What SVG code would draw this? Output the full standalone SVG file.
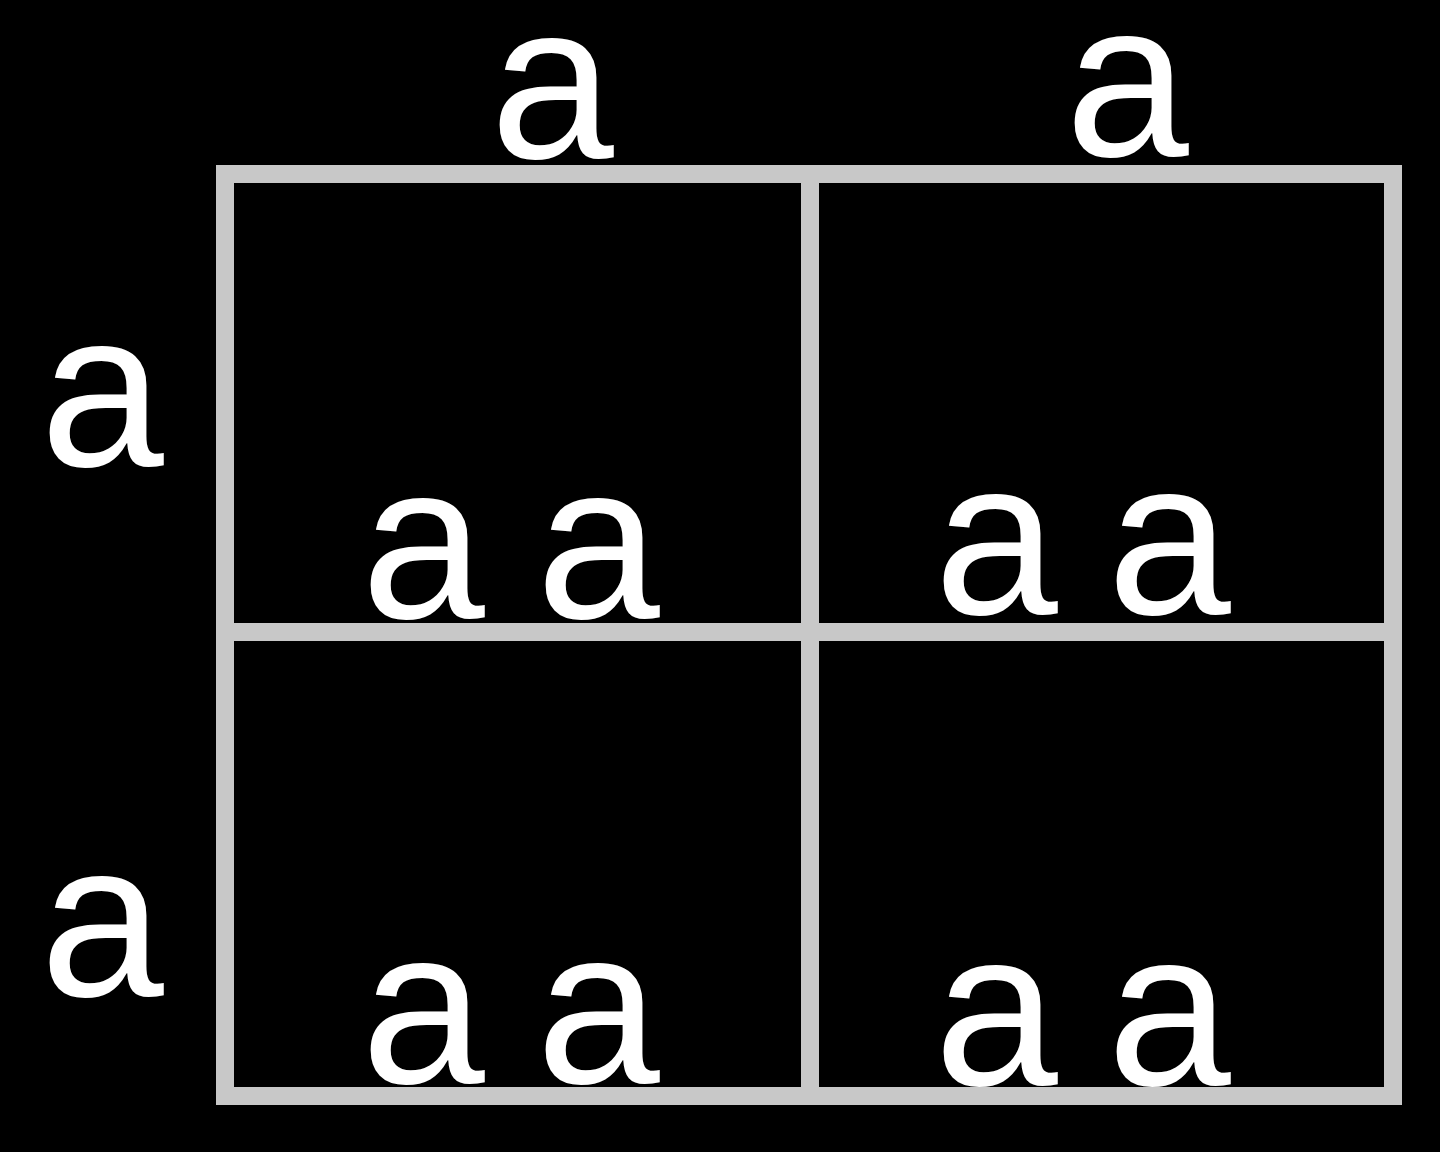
<svg xmlns="http://www.w3.org/2000/svg" width="1440" height="1152" viewBox="0 0 1440 1152">
<style>
.t{font-family:"Liberation Sans",Arial,sans-serif;font-size:222px;fill:#fff;text-anchor:middle}
.g{stroke:#c8c8c8;stroke-width:18;fill:none}
</style>
<rect width="1440" height="1152" fill="#000"/>
<g id="grid">
<rect class="g" x="225" y="174" width="1168" height="922"/>
<line class="g" x1="810" y1="174" x2="810" y2="1096"/>
<line class="g" x1="225" y1="632" x2="1393" y2="632"/>
</g>
<g id="top1"><text class="t" x="552" y="158">a</text></g>
<g id="top2"><text class="t" x="1127" y="156">a</text></g>
<g id="left1"><text class="t" x="102" y="466">a</text></g>
<g id="left2"><text class="t" x="102" y="996">a</text></g>
<g id="c11"><text class="t" x="423" y="618">a</text><text class="t" x="598" y="618">a</text></g>
<g id="c12"><text class="t" x="996" y="614">a</text><text class="t" x="1169" y="614">a</text></g>
<g id="c21"><text class="t" x="423" y="1083">a</text><text class="t" x="598" y="1083">a</text></g>
<g id="c22"><text class="t" x="996" y="1085">a</text><text class="t" x="1169" y="1085">a</text></g>
</svg>
